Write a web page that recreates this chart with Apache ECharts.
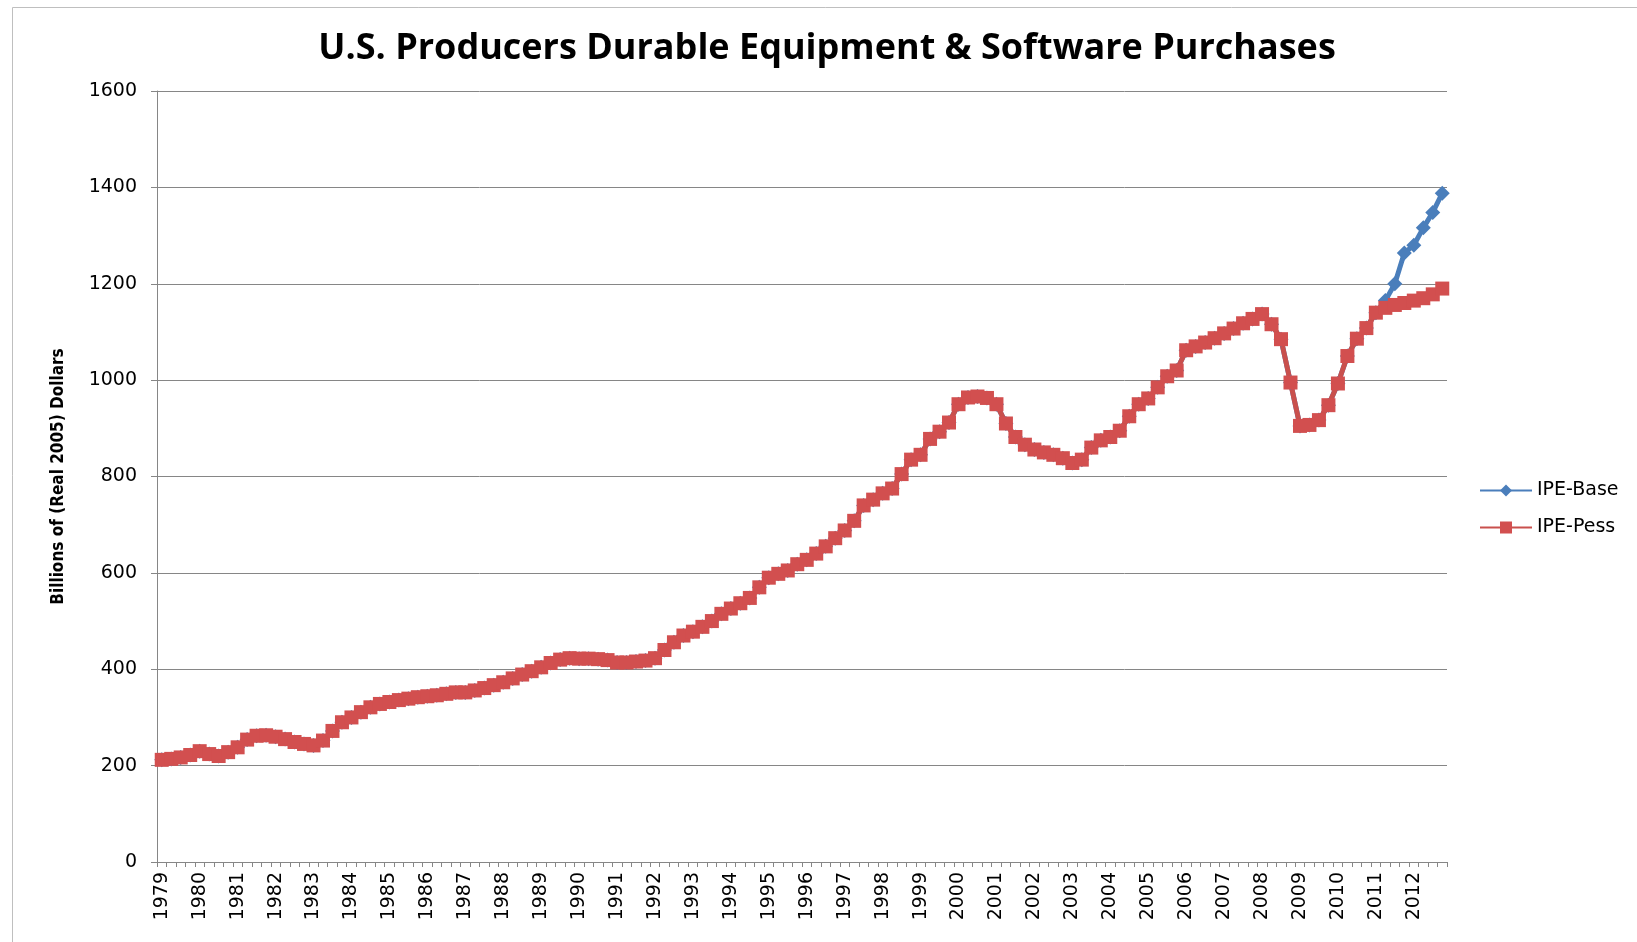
<!DOCTYPE html>
<html>
<head>
<meta charset="utf-8">
<title>U.S. Producers Durable Equipment & Software Purchases</title>
<script src="https://cdn.jsdelivr.net/npm/echarts@6/dist/echarts.min.js"></script>
<style>
  html, body { margin: 0; padding: 0; background: #fff; }
  #chart { width: 1637px; height: 942px; }
</style>
</head>
<body>
<div id="chart"></div>
<script>
// years on the x axis, one category per quarter
const years = ['1979', '1980', '1981', '1982', '1983', '1984', '1985', '1986', '1987', '1988',
               '1989', '1990', '1991', '1992', '1993', '1994', '1995', '1996', '1997', '1998',
               '1999', '2000', '2001', '2002', '2003', '2004', '2005', '2006', '2007', '2008',
               '2009', '2010', '2011', '2012'];
const quarters = ['Q1', 'Q2', 'Q3', 'Q4'];

// shared history, 1979Q1 - 2011Q1 (billions of real 2005 dollars)
const history = [
    212, 214, 217, 222,      // 1979
    230, 224, 220, 228,      // 1980
    238, 254, 262, 263,      // 1981
    260, 255, 249, 245,      // 1982
    242, 252, 272, 290,      // 1983
    300, 311, 321, 328,      // 1984
    332, 336, 339, 342,      // 1985
    344, 346, 349, 352,      // 1986
    352, 356, 361, 367,      // 1987
    373, 381, 389, 396,      // 1988
    404, 413, 420, 423,      // 1989
    422, 422, 421, 419,      // 1990
    414, 414, 416, 418,      // 1991
    423, 440, 456, 470,      // 1992
    478, 488, 500, 515,      // 1993
    526, 537, 548, 570,      // 1994
    590, 598, 605, 618,      // 1995
    627, 640, 655, 672,      // 1996
    688, 708, 740, 752,      // 1997
    765, 775, 805, 835,      // 1998
    845, 878, 893, 912,      // 1999
    950, 964, 966, 963,      // 2000
    950, 910, 882, 866,      // 2001
    856, 850, 845, 838,      // 2002
    828, 835, 860, 875,      // 2003
    882, 895, 925, 950,      // 2004
    962, 985, 1008, 1020,    // 2005
    1062, 1070, 1078, 1087,  // 2006
    1097, 1107, 1118, 1127,  // 2007
    1137, 1116, 1085, 995,   // 2008
    905, 907, 917, 948,      // 2009
    993, 1050, 1086, 1108,   // 2010
    1140                     // 2011 Q1
];
// forecasts 2011Q2 - 2012Q4
const baseTail = [1165, 1200, 1264, 1280, 1316, 1348, 1388];
const pessTail = [1150, 1156, 1160, 1165, 1170, 1178, 1190];

const yTicks = [0, 200, 400, 600, 800, 1000, 1200, 1400, 1600];

const categories = [];
years.forEach(function (y) {
    quarters.forEach(function (q) { categories.push(y + ' ' + q); });
});
const ipeBase = history.concat(baseTail);
const ipePess = history.concat(pessTail);

let myChart = echarts.init(document.getElementById('chart'));

const labelFont = "'DejaVu Sans', Verdana, sans-serif";

myChart.setOption({
    animation: false,
    backgroundColor: '#fff',
    graphic: [
        { // thin frame round the chart area
            type: 'rect',
            left: 10, top: 5,
            shape: { width: 1700, height: 1000 },
            style: { fill: 'none', stroke: '#bfbfbf', lineWidth: 1 },
            silent: true
        }
    ],
    title: {
        text: 'U.S. Producers Durable Equipment & Software Purchases',
        left: 822,
        textAlign: 'center',
        top: 26,
        textStyle: {
            fontFamily: "'Open Sans', Lato, sans-serif",
            fontWeight: 'bold',
            fontSize: 36,
            color: '#000'
        }
    },
    legend: {
        orient: 'vertical',
        left: 1474,
        top: 476,
        itemWidth: 52,
        itemHeight: 15,
        itemGap: 18,
        textStyle: { fontFamily: labelFont, fontSize: 19, color: '#000' },
        data: ['IPE-Base', 'IPE-Pess']
    },
    grid: {
        left: 157,
        right: 190,
        top: 91,
        bottom: 80,
        containLabel: false
    },
    xAxis: {
        type: 'category',
        data: categories,
        boundaryGap: true,
        axisLine: { lineStyle: { color: '#868686', width: 1 } },
        axisTick: { show: true, interval: 0, length: 5, lineStyle: { color: '#868686' } },
        axisLabel: {
            interval: 3,
            rotate: 90,
            margin: 10,
            fontFamily: labelFont,
            fontSize: 19,
            color: '#000',
            formatter: function (v) { return v.slice(0, 4); }
        },
        splitLine: { show: false }
    },
    yAxis: {
        type: 'value',
        min: yTicks[0],
        max: yTicks[yTicks.length - 1],
        interval: 200,
        name: 'Billions of (Real 2005) Dollars',
        nameLocation: 'middle',
        nameGap: 90,
        nameRotate: 90,
        nameTextStyle: {
            fontFamily: "'Liberation Sans Narrow', 'DejaVu Sans Condensed', sans-serif",
            fontWeight: 'bold',
            fontSize: 17,
            color: '#000'
        },
        axisLine: { show: true, lineStyle: { color: '#868686', width: 1 } },
        axisTick: { show: true, length: 6, lineStyle: { color: '#868686' } },
        axisLabel: {
            margin: 20,
            fontFamily: labelFont,
            fontSize: 19,
            color: '#000',
            formatter: function (v) { return String(v); }
        },
        splitLine: { show: true, lineStyle: { color: '#868686', width: 1 } }
    },
    series: [
        {
            name: 'IPE-Base',
            type: 'line',
            data: ipeBase,
            symbol: 'diamond',
            symbolSize: 15,
            showAllSymbol: true,
            lineStyle: { color: '#4a7ebb', width: 5 },
            itemStyle: { color: '#4a7ebb' }
        },
        {
            name: 'IPE-Pess',
            type: 'line',
            data: ipePess,
            symbol: 'rect',
            symbolSize: 14,
            showAllSymbol: true,
            lineStyle: { color: '#c9504d', width: 5 },
            itemStyle: { color: '#d24f4f' }
        }
    ]
});

window.addEventListener('resize', function () {
    myChart.resize();
});
</script>
</body>
</html>
